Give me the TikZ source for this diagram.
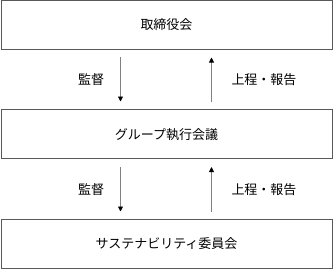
\documentclass[tikz,border=0pt]{standalone}
\usepackage{fontspec}
\setmainfont{Noto Sans CJK JP}
\usetikzlibrary{arrows.meta}
\begin{document}
\begin{tikzpicture}[x=1pt,y=-1pt,
  boxst/.style={draw=black!65,line width=1pt,minimum width=331pt,minimum height=48.5pt,inner sep=0pt,font=\fontsize{13}{15}\selectfont},
  conn/.style={draw=black!50,line width=0.9pt,-{Triangle[length=5pt,width=5pt,color=black]}},
  lbl/.style={font=\fontsize{13}{15}\selectfont,inner sep=0pt}]
\useasboundingbox (0,0) rectangle (333,269);
\node[boxst] (top) at (166.5,25) {取締役会};
\node[boxst] (mid) at (166.5,134.2) {グループ執行会議};
\node[boxst] (bot) at (166.5,243.8) {サステナビリティ委員会};
\coordinate (a1s) at (120.5,57);
\coordinate (a1e) at (120.5,101.5);
\coordinate (b1s) at (211.5,102);
\coordinate (b1e) at (211.5,57.5);
\coordinate (a2s) at (120.5,167);
\coordinate (a2e) at (120.5,211.5);
\coordinate (b2s) at (211.5,212);
\coordinate (b2e) at (211.5,167);
\draw[conn] (a1s) -- (a1e);
\draw[conn] (b1s) -- (b1e);
\draw[conn] (a2s) -- (a2e);
\draw[conn] (b2s) -- (b2e);
\node[lbl] (l1) at (91,80) {監督};
\node[lbl] (r1) at (264,80) {上程・報告};
\node[lbl] (l2) at (91,190) {監督};
\node[lbl] (r2) at (264,190) {上程・報告};
\end{tikzpicture}
\end{document}
